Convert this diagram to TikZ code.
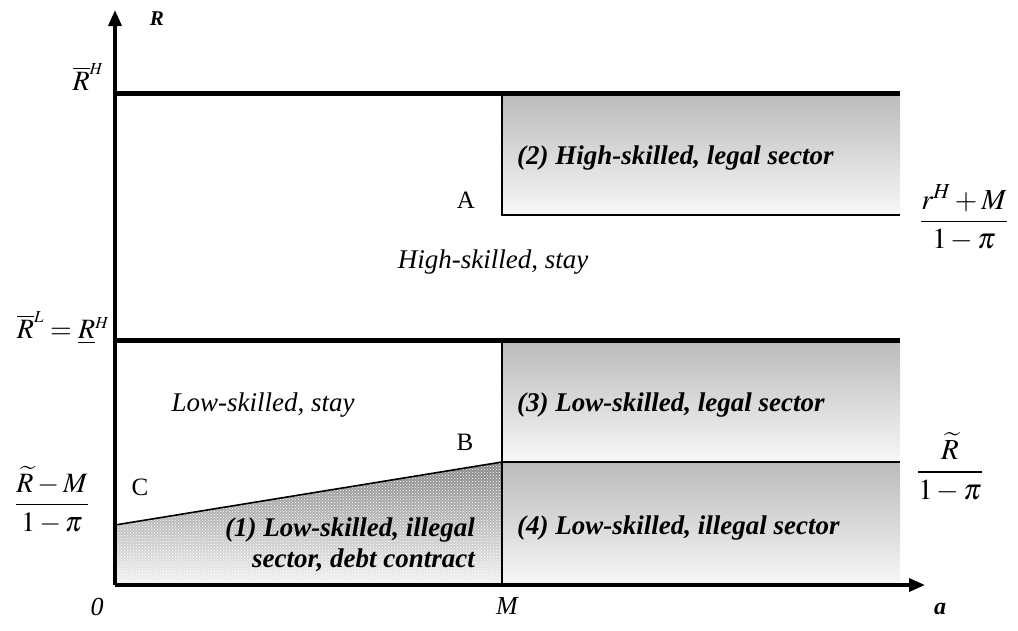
\documentclass[tikz,border=0pt]{standalone}
\usepackage{amsmath}
\usepackage{mathptmx}
\usepackage{fontspec}
\setmainfont{Liberation Serif}
\usepackage{tikz}
\usetikzlibrary{arrows.meta,patterns}
\tikzset{
  axis/.style    ={line width=3.5pt, -{Triangle[length=16pt,width=13pt]}},
  bound/.style   ={line width=5pt},
  edge/.style    ={line width=1.6pt},
  shadebox/.style={top color=black!27, bottom color=black!3, draw=none},
  regtxt/.style  ={font=\fontsize{27}{31}\selectfont\bfseries\itshape, inner sep=0pt},
  staytxt/.style ={font=\fontsize{27}{31}\selectfont\itshape, inner sep=0pt},
  pnt/.style     ={font=\fontsize{25}{28}\selectfont, inner sep=0pt},
  ticktxt/.style ={font=\fontsize{28}{32}\selectfont, inner sep=0pt}
}

\begin{document}
\begin{tikzpicture}[x=1pt,y=-1pt]
  \useasboundingbox (0,0) rectangle (1018,630);
  % corners of the plane
  \coordinate (O)   at (115,585);
  \coordinate (Ytop) at (115,10);
  \coordinate (Xend) at (925,585);
  \coordinate (HH)  at (115,93);   \coordinate (HHr)  at (900,93);
  \coordinate (LH)  at (115,340);  \coordinate (LHr)  at (900,340);
  \coordinate (MH)  at (502,93);   \coordinate (MA)   at (502,215);  \coordinate (MAr) at (900,215);
  \coordinate (ML)  at (502,340);  \coordinate (MB)   at (502,462);  \coordinate (MBr) at (900,462);
  \coordinate (M0)  at (502,585);  \coordinate (M0r)  at (900,585);
  \coordinate (C0)  at (115,525);
  % shaded regions
  \fill[shadebox] (MH) rectangle (MAr);
  \fill[shadebox] (ML) rectangle (MBr);
  \fill[shadebox] (MB) rectangle (M0r);
  \fill[top color=black!48, bottom color=black!4, draw=none] (C0) -- (MB) -- (M0) -- (O) -- cycle;
  \fill[pattern=crosshatch dots, pattern color=white] (C0) -- (MB) -- (M0) -- (O) -- cycle;
  % thin boundaries
  \draw[edge] (MH) -- (MA) -- (MAr);
  \draw[edge] (ML) -- (M0);
  \draw[edge] (MB) -- (MBr);
  \draw[edge] (C0) -- (MB);
  % thick boundaries and axes
  \draw[bound] (HH) -- (HHr);
  \draw[bound] (LH) -- (LHr);
  \draw[axis] (O) -- (Ytop);
  \draw[axis] (O) -- (Xend);
  % axis labels
  \node[ticktxt, font=\fontsize{21}{23}\selectfont\bfseries\itshape] (ylab) at (157,19) {R};
  \node[ticktxt, font=\fontsize{26}{28}\selectfont\itshape] (zero) at (97,607) {0};
  \node[ticktxt, font=\fontsize{26}{28}\selectfont\itshape] (mlab) at (507,606) {M};
  \node[ticktxt, font=\fontsize{24}{26}\selectfont\bfseries\itshape] (xlab) at (940,609) {a};
  \node[ticktxt] (rbh) at (88,77) {$\overline{R}^{\scriptscriptstyle H}$};
  \node[ticktxt] (rbl) at (63,328) {$\overline{R}^{\scriptscriptstyle L}=\underline{R}^{\scriptscriptstyle H}$};
  \node[ticktxt] (rlow) at (52,500) {$\dfrac{\widetilde{R}-M}{1-\pi}$};
  \node[ticktxt, font=\fontsize{29}{32}\selectfont] (rhigh) at (964,218) {$\dfrac{r^{H}+M}{1-\pi}$};
  \node[ticktxt, font=\fontsize{29}{32}\selectfont] (rmid) at (950,467) {$\dfrac{\widetilde{R}}{1-\pi}$};
  % points
  \node[pnt] (A) at (466,200) {A};
  \node[pnt] (B) at (465,442) {B};
  \node[pnt] (C) at (140,487) {C};
  % region texts
  \node[staytxt] (hstay) at (493,262) {High-skilled, stay};
  \node[staytxt] (lstay) at (263,405) {Low-skilled, stay};
  \node[regtxt, anchor=west] (r2) at (517,158) {(2) High-skilled, legal sector};
  \node[regtxt, anchor=west] (r3) at (517,405) {(3) Low-skilled, legal sector};
  \node[regtxt, anchor=west] (r4) at (517,528) {(4) Low-skilled, illegal sector};
  \node[regtxt, anchor=east, align=right] (r1) at (475,545) {(1) Low-skilled, illegal\\sector, debt contract};
\end{tikzpicture}
\end{document}
